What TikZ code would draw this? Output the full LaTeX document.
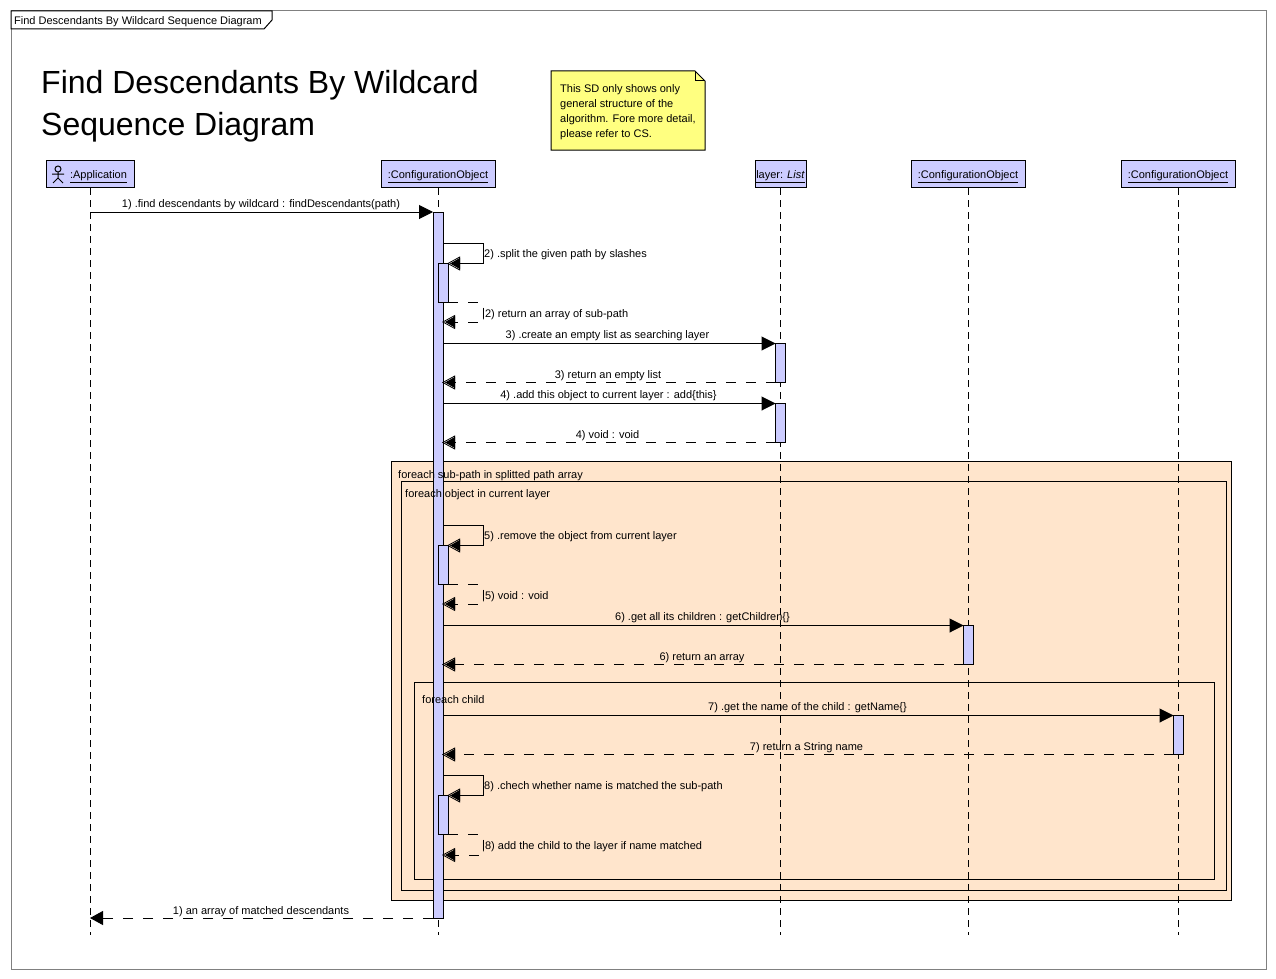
\documentclass[tikz,border=0pt]{standalone}
\usepackage{fontspec}
\setmainfont{Liberation Sans}
\usetikzlibrary{arrows.meta}
\definecolor{headblue}{HTML}{CCCCFF}
\definecolor{fragpeach}{HTML}{FFE5CC}
\definecolor{noteyellow}{HTML}{FFFF80}
\definecolor{framegray}{HTML}{808080}
\tikzset{
  lbl/.style={inner sep=0pt, yshift=-2pt, font=\fontsize{11}{15}\selectfont},
  lbleft/.style={lbl, anchor=west},
  head/.style={draw, fill=headblue, line width=1pt, inner sep=0pt, minimum height=27pt,
    text height=11pt, text depth=1.4pt, font=\fontsize{11}{15}\selectfont},
  actbar/.style={draw, fill=headblue, line width=1pt, inner sep=0pt, outer sep=0pt, minimum width=10pt},
  frag/.style={draw, fill=fragpeach, line width=1pt},
  life/.style={line width=1pt, dash pattern=on 7pt off 5pt},
  msg/.style={line width=1pt, -{Triangle[length=14pt,width=14pt]}},
  ret/.style={line width=1pt, dash pattern=on 10pt off 10pt, -{Triangle[length=13pt,width=14pt]}},
  selfmsg/.style={line width=1pt, shorten >=2pt, -{Triangle[open,length=13pt,width=14pt,line width=.8pt,sep=-13pt]Triangle[length=10pt,width=11pt]}},
  selfret/.style={selfmsg, dash pattern=on 10pt off 10pt}
}
\begin{document}
\begin{tikzpicture}[x=1pt, y=-1pt]
  \useasboundingbox (0,0) rectangle (1276,979);
  % outer frame and its tab
  \draw[framegray, line width=1pt] (11,11) rectangle (1266,969);
  \draw[fill=white, line width=1pt] (11,11) -- (272,11) -- (272,20) -- (264,29) -- (11,29) -- cycle;
  \node[lbleft] (tabText) at (14,20) {Find Descendants By Wildcard Sequence Diagram};
  \node[anchor=west, align=left, inner sep=0pt, font=\fontsize{32}{42}\selectfont] (titleText) at (41,106)
    {Find Descendants By Wildcard\\Sequence Diagram};
  % note
  \draw[fill=noteyellow, line width=1pt] (551,71) -- (695,71) -- (705,81) -- (705,150) -- (551,150) -- cycle;
  \draw[line width=1pt] (695,71) -- (695,81) -- (705,81);
  \node[lbl, anchor=west, align=left] (noteText) at (560,110.5)
    {This SD only shows only\\general structure of the\\algorithm. Fore more detail,\\please refer to CS.};
  % combined fragments
  \node[frag, minimum width=840pt, minimum height=439pt] (fragPath) at (811,680.5) {};
  \node[frag, minimum width=825pt, minimum height=409pt] (fragObject) at (813.5,685.5) {};
  \node[frag, minimum width=800pt, minimum height=197pt] (fragChild) at (814,780.5) {};
  % heads
  \node[head, minimum width=88pt] (app) at (90,174) {\hspace{17pt}\underline{:Application}};
  \node[head, minimum width=114pt] (conf) at (438,174) {\underline{:ConfigurationObject}};
  \node[head, minimum width=51pt] (layer) at (780.5,174) {\underline{layer: \textit{List}}};
  \node[head, minimum width=114pt] (child) at (968,174) {\underline{:ConfigurationObject}};
  \node[head, minimum width=114pt] (name) at (1178,174) {\underline{:ConfigurationObject}};
  \draw[line width=1pt] (58,169) circle (3pt) (58,172) -- (58,178) (52,174) -- (64,174) (53,183) -- (58,178) -- (63,183);
  % lifelines
  \coordinate (appEnd) at (90,935);
  \coordinate (confEnd) at (438,935);
  \coordinate (layerEnd) at (780.5,935);
  \coordinate (childEnd) at (968,935);
  \coordinate (nameEnd) at (1178,935);
  \draw[life] (app) -- (appEnd);
  \draw[life] (conf) -- (confEnd);
  \draw[life] (layer) -- (layerEnd);
  \draw[life] (child) -- (childEnd);
  \draw[life] (name) -- (nameEnd);
  % activations
  \node[actbar, minimum height=706pt] (barMain) at (438,565) {};
  \node[actbar, minimum height=39pt] (barSplit) at (443,283) {};
  \node[actbar, minimum height=39pt] (barRemove) at (443,565) {};
  \node[actbar, minimum height=39pt] (barCheck) at (443,815) {};
  \node[actbar, minimum height=39pt] (barLayerA) at (780.5,363) {};
  \node[actbar, minimum height=39pt] (barLayerB) at (780.5,423) {};
  \node[actbar, minimum height=39pt] (barChild) at (968.5,645) {};
  \node[actbar, minimum height=39pt] (barName) at (1178.5,735) {};
  % fragment captions lie over the bar
  \node[lbleft] (fragPathText) at (398,474) {foreach sub-path in splitted path array};
  \node[lbleft] (fragObjectText) at (405,493) {foreach object in current layer};
  \node[lbleft] (fragChildText) at (422,698) {foreach child};
  % messages
  \draw[msg] (app |- barMain.north) -- (barMain.north west);
  \node[lbl] (msgFind) at (261,203) {1) .find descendants by wildcard : findDescendants(path)};
  \coordinate (splitOut) at (483,243);
  \coordinate (splitBack) at (483,322);
  \draw[selfmsg] (barMain.east |- splitOut) -- (splitOut) |- (barSplit.north east);
  \draw[selfret] (barSplit.south east) -| (splitBack) -- (barMain.east |- splitBack);
  \node[lbleft] (msgSplit) at (484,253) {2) .split the given path by slashes};
  \node[lbleft] (msgSplitRet) at (482,313) {|2) return an array of sub-path};
  \draw[msg] (barMain.east |- barLayerA.north) -- (barLayerA.north west);
  \draw[selfret] (barLayerA.south west) -- (barMain.east |- barLayerA.south);
  \node[lbl] (msgList) at (607.5,334) {3) .create an empty list as searching layer};
  \node[lbl] (msgListRet) at (608,374) {3) return an empty list};
  \draw[msg] (barMain.east |- barLayerB.north) -- (barLayerB.north west);
  \draw[selfret] (barLayerB.south west) -- (barMain.east |- barLayerB.south);
  \node[lbl] (msgAdd) at (608.5,394) {4) .add this object to current layer : add\{this\}};
  \node[lbl] (msgAddRet) at (607.5,434) {4) void : void};
  \coordinate (removeOut) at (483,525);
  \coordinate (removeBack) at (483,604);
  \draw[selfmsg] (barMain.east |- removeOut) -- (removeOut) |- (barRemove.north east);
  \draw[selfret] (barRemove.south east) -| (removeBack) -- (barMain.east |- removeBack);
  \node[lbleft] (msgRemove) at (484,535) {5) .remove the object from current layer};
  \node[lbleft] (msgRemoveRet) at (482,595) {|5) void : void};
  \draw[msg] (barMain.east |- barChild.north) -- (barChild.north west);
  \draw[selfret] (barChild.south west) -- (barMain.east |- barChild.south);
  \node[lbl] (msgChild) at (702.5,616) {6) .get all its children : getChildren\{\}};
  \node[lbl] (msgChildRet) at (702,656) {6) return an array};
  \draw[msg] (barMain.east |- barName.north) -- (barName.north west);
  \draw[selfret] (barName.south west) -- (barMain.east |- barName.south);
  \node[lbl] (msgName) at (807.5,706) {7) .get the name of the child : getName\{\}};
  \node[lbl] (msgNameRet) at (806.5,746) {7) return a String name};
  \coordinate (checkOut) at (483,775);
  \coordinate (checkBack) at (483,855);
  \draw[selfmsg] (barMain.east |- checkOut) -- (checkOut) |- (barCheck.north east);
  \draw[selfret] (barCheck.south east) -| (checkBack) -- (barMain.east |- checkBack);
  \node[lbleft] (msgCheck) at (484,785) {8) .chech whether name is matched the sub-path};
  \node[lbleft] (msgCheckRet) at (482,845) {|8) add the child to the layer if name matched};
  \draw[ret] (barMain.south west) -- (app |- barMain.south);
  \node[lbl] (msgFindRet) at (261,910) {1) an array of matched descendants};
\end{tikzpicture}
\end{document}
